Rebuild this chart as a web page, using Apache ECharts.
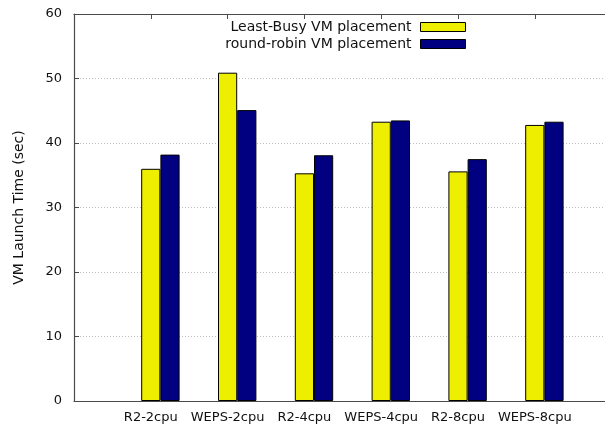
<!DOCTYPE html>
<html>
<head>
<meta charset="utf-8">
<script src="https://cdn.jsdelivr.net/npm/echarts@6/dist/echarts.min.js"></script>
<style>
  html, body { margin: 0; padding: 0; background: #fff; }
  #chart { width: 605px; height: 426px; }
</style>
</head>
<body>
<div id="chart"></div>
<script>
// Configurations on the horizontal axis
const categories = ['R2-2cpu', 'WEPS-2cpu', 'R2-4cpu', 'WEPS-4cpu', 'R2-8cpu', 'WEPS-8cpu'];

// VM launch time (sec) for each placement policy
const leastBusy  = [36.0, 50.9, 35.3, 43.3, 35.6, 42.8];
const roundRobin = [38.2, 45.1, 38.1, 43.5, 37.5, 43.3];

// Vertical axis range
const yMin = 0;
const yMax = 60;
const yStep = 10;

const FONT = 'DejaVu Sans';
const AXIS_COLOR = '#4a4a4a';
const TEXT_COLOR = '#111';

// Frame grid: one unit on the x axis per configuration, starting one unit left of the first
const UNIT = 76.8;
const BAR_W = UNIT / 4;
const frameLeft = 74;
const plotTop = 14;
const plotBottom = 25;

const chart = echarts.init(document.getElementById('chart'), null, { renderer: 'canvas' });

const frameAxis = (position, showLabels) => ({
  gridIndex: 0,
  type: 'value',
  position: position,
  min: -1,
  max: 6,
  interval: 1,
  axisLine: { show: true, onZero: false, lineStyle: { color: AXIS_COLOR, width: 1.2 } },
  axisTick: { show: true, inside: true, length: 5, lineStyle: { color: AXIS_COLOR } },
  splitLine: { show: false },
  axisLabel: showLabels ? {
    margin: 10,
    fontFamily: FONT,
    fontSize: 13,
    color: TEXT_COLOR,
    showMinLabel: false,
    showMaxLabel: false,
    formatter: v => (categories[v] !== undefined ? categories[v] : '')
  } : { show: false }
});

const option = {
  backgroundColor: '#fff',
  animation: false,
  textStyle: { fontFamily: FONT },
  legend: {
    orient: 'vertical',
    right: 139,
    top: 20,
    padding: 0,
    itemGap: 3,
    align: 'right',
    icon: 'rect',
    itemWidth: 45,
    itemHeight: 9,
    itemStyle: { borderColor: '#000', borderWidth: 1 },
    textStyle: { fontFamily: FONT, fontSize: 14, color: TEXT_COLOR, lineHeight: 14, padding: [0, 4, 0, 0] },
    data: ['Least-Busy VM placement', 'round-robin VM placement']
  },
  grid: [
    // frame: axes, ticks, grid lines and labels
    { left: frameLeft, top: plotTop, bottom: plotBottom, width: UNIT * 7, outerBoundsMode: 'none' },
    // bars: each pair's first bar is centred on its frame tick
    { left: frameLeft + UNIT + BAR_W / 2 - UNIT / 2, top: plotTop, bottom: plotBottom, width: UNIT * 6, outerBoundsMode: 'none' }
  ],
  xAxis: [
    frameAxis('bottom', true),
    frameAxis('top', false),
    { gridIndex: 1, type: 'category', data: categories, show: false }
  ],
  yAxis: [
    {
      gridIndex: 0,
      type: 'value',
      min: yMin,
      max: yMax,
      interval: yStep,
      name: 'VM Launch Time (sec)',
      nameLocation: 'middle',
      nameGap: 48,
      nameTextStyle: { fontFamily: FONT, fontSize: 14, color: TEXT_COLOR },
      axisLine: { show: true, onZero: false, lineStyle: { color: AXIS_COLOR, width: 1.2 } },
      axisTick: { show: true, inside: true, length: 5, lineStyle: { color: AXIS_COLOR } },
      axisLabel: { margin: 12, fontFamily: FONT, fontSize: 13, color: TEXT_COLOR },
      splitLine: { show: true, lineStyle: { color: '#bdbdbd', width: 1, type: [1, 2] } }
    },
    { gridIndex: 1, type: 'value', min: yMin, max: yMax, show: false }
  ],
  series: [
    {
      name: 'Least-Busy VM placement',
      type: 'bar',
      xAxisIndex: 2,
      yAxisIndex: 1,
      data: leastBusy,
      barWidth: BAR_W,
      barGap: '0%',
      z: 5,
      itemStyle: { color: '#eeee00', borderColor: '#000', borderWidth: 1 }
    },
    {
      name: 'round-robin VM placement',
      type: 'bar',
      xAxisIndex: 2,
      yAxisIndex: 1,
      data: roundRobin,
      barWidth: BAR_W,
      barGap: '0%',
      z: 5,
      itemStyle: { color: '#000080', borderColor: '#000', borderWidth: 1 }
    }
  ]
};

chart.setOption(option);
</script>
</body>
</html>
